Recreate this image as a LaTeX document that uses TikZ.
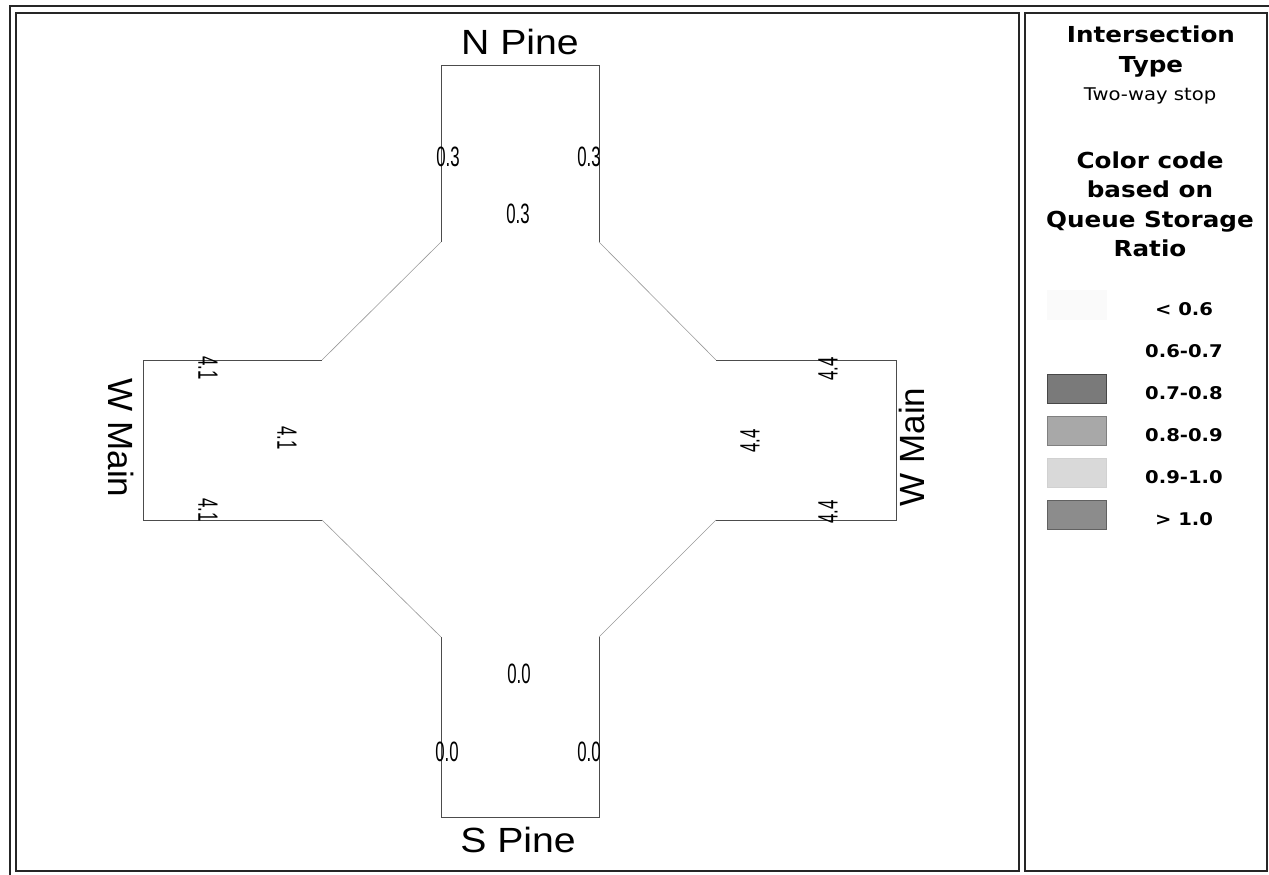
\documentclass[tikz,border=0pt]{standalone}
\usepackage{fontspec}
\setmainfont{Liberation Sans}
\newfontfamily\legendfont{DejaVu Sans}
\usepackage{graphicx}
\usetikzlibrary{positioning}
\newcommand{\fsz}[1]{\fontsize{#1}{#1}\selectfont}
\newcommand{\narrownum}[1]{\scalebox{0.6}[1]{#1}}

\begin{document}
\begin{tikzpicture}[
  x=1pt,y=-1pt,
  framebox/.style={draw=black!85,line width=1.6pt},
  road/.style={draw=black!70,line width=0.8pt},
  bevel/.style={draw=black!40,line width=0.6pt},
  street/.style={font=\fsz{35},inner sep=0pt},
  hstreet/.style={street,xscale=1.12},
  qval/.style={font=\fsz{28},inner sep=0pt},
  ttl/.style={font=\legendfont\bfseries\fsz{22},inner sep=0pt,anchor=base,xscale=1.12},
  subttl/.style={font=\legendfont\fsz{17.5},inner sep=0pt,anchor=base,xscale=1.12},
  rangelbl/.style={font=\legendfont\bfseries\fsz{17.5},inner sep=0pt,anchor=base,xscale=1.12},
  swatch/.style={minimum width=59pt,minimum height=29pt,inner sep=0pt,line width=0.8pt}
]
\useasboundingbox (0,0) rectangle (1269,875);

% ---------------- frames
\draw[framebox] (10,875) -- (10,6) -- (1269,6);
\draw[framebox] (16,13) rectangle (1019,871);
\draw[framebox] (1025,13) rectangle (1267,871);

% ---------------- intersection outline
\draw[road] (441,242) -- (441,65) -- (599,65) -- (599,242);
\draw[road] (716,360) -- (896,360) -- (896,520) -- (716,520);
\draw[road] (599,637) -- (599,817) -- (441,817) -- (441,637);
\draw[road] (322,520) -- (143,520) -- (143,360) -- (322,360);
\draw[bevel] (599,242) -- (716,360);
\draw[bevel] (716,520) -- (599,637);
\draw[bevel] (441,637) -- (322,520);
\draw[bevel] (322,360) -- (441,242);

% ---------------- street names
\node[hstreet,anchor=base] (npine) at (520,55) {N Pine};
\node[hstreet,anchor=base] (spine) at (518,852) {S Pine};
\node[street,rotate=-90] (wmain) at (121,438) {W Main};
\node[street,rotate=90] (emain) at (912,447) {W Main};

% ---------------- queue values per approach
\node[qval] (n1) at (448,157) {\narrownum{0.3}};
\node[qval] (n2) at (589,157) {\narrownum{0.3}};
\node[qval] (n3) at (518,214) {\narrownum{0.3}};
\node[qval] (s1) at (519,674) {\narrownum{0.0}};
\node[qval] (s2) at (447,752) {\narrownum{0.0}};
\node[qval] (s3) at (589,752) {\narrownum{0.0}};
\foreach \nm/\x/\y in {w1/208/368,w2/287/438,w3/208/510}
  \node[qval,rotate=-90] (\nm) at (\x,\y) {\narrownum{4.1}};
\foreach \nm/\x/\y in {e1/828/369,e2/750/441,e3/828/512}
  \node[qval,rotate=90] (\nm) at (\x,\y) {\narrownum{4.4}};

% ---------------- legend
\node[ttl] (t1) at (1151,43) {Intersection};
\node[ttl] (t2) at (1151,73) {Type};
\node[subttl] (t3) at (1150,100) {Two-way stop};
\node[ttl] (c1) at (1150,168) {Color code};
\node[ttl] (c2) at (1150,197.5) {based on};
\node[ttl] (c3) at (1150,227) {Queue Storage};
\node[ttl] (c4) at (1150,256.5) {Ratio};

\foreach \lab/\shade/\edge [count=\i from 0] in
  {{< 0.6}/black!2/black!2,{0.6-0.7}/white/white,{0.7-0.8}/black!52/black!72,
   {0.8-0.9}/black!34/black!50,{0.9-1.0}/black!15/black!18,{> 1.0}/black!45/black!62}
{
  \node[swatch,fill=\shade,draw=\edge] (sw\i) at (1076.5,304.5+42*\i) {};
  \node[rangelbl] (rg\i) at (1184,315+42*\i) {\lab};
}
\end{tikzpicture}
\end{document}
